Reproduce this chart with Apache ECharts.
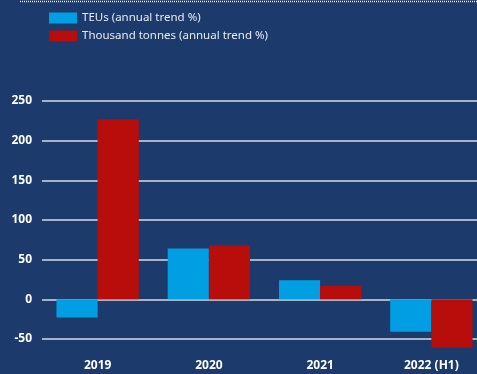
<!DOCTYPE html>
<html>
<head>
<meta charset="utf-8">
<script src="https://cdn.jsdelivr.net/npm/echarts@6/dist/echarts.min.js"></script>
<style>
  html, body { margin: 0; padding: 0; background: #1c3a6b; overflow: hidden; }
  #chart { width: 487px; height: 374px; }
</style>
</head>
<body>
<div id="chart"></div>
<script>
// data
var years = ['2019', '2020', '2021', '2022 (H1)'];
var teus = [-23, 64, 24, -41];
var tonnes = [227, 68, 17, -61];
var seriesNames = ['TEUs (annual trend %)', 'Thousand tonnes (annual trend %)'];

// the plot runs a little past the right edge of the window, as in the reference
var option = {
    backgroundColor: '#1c3a6b',
    animation: false,
    textStyle: { fontFamily: 'Noto Sans' },
    graphic: [{
        type: 'line',
        shape: { x1: 20, y1: 1.5, x2: 487, y2: 1.5 },
        style: { stroke: '#e8ecf2', lineWidth: 1.5, lineDash: [1, 1] }
    }],
    legend: {
        orient: 'vertical',
        left: 44,
        top: 7,
        itemWidth: 28,
        itemHeight: 11,
        itemGap: 6,
        icon: 'rect',
        textStyle: { color: '#e6ebf2', fontSize: 11.5 },
        data: seriesNames
    },
    grid: {
        left: 42,
        right: 0,
        top: 101,
        height: 238
    },
    xAxis: {
        type: 'category',
        data: years,
        axisLine: { show: false },
        axisTick: { show: false },
        axisLabel: {
            color: '#ffffff',
            fontWeight: 'bold',
            fontSize: 12,
            margin: 21
        }
    },
    yAxis: {
        type: 'value',
        min: -50,
        max: 250,
        interval: 50,
        axisLine: { show: false },
        axisTick: { show: false },
        axisLabel: {
            color: '#ffffff',
            fontWeight: 'bold',
            fontSize: 12,
            margin: 10
        },
        splitLine: { lineStyle: { color: '#d5dce6', width: 1.5 } }
    },
    series: [{
        name: seriesNames[0],
        type: 'bar',
        data: teus,
        clip: false,
        barGap: '0%',
        barCategoryGap: '26%',
        itemStyle: { color: '#009fe3' }
    }, {
        name: seriesNames[1],
        type: 'bar',
        data: tonnes,
        clip: false,
        barGap: '0%',
        barCategoryGap: '26%',
        itemStyle: { color: '#b70e0b' }
    }]
};

var myChart = echarts.init(document.getElementById('chart'));
myChart.setOption(option);
</script>
</body>
</html>
